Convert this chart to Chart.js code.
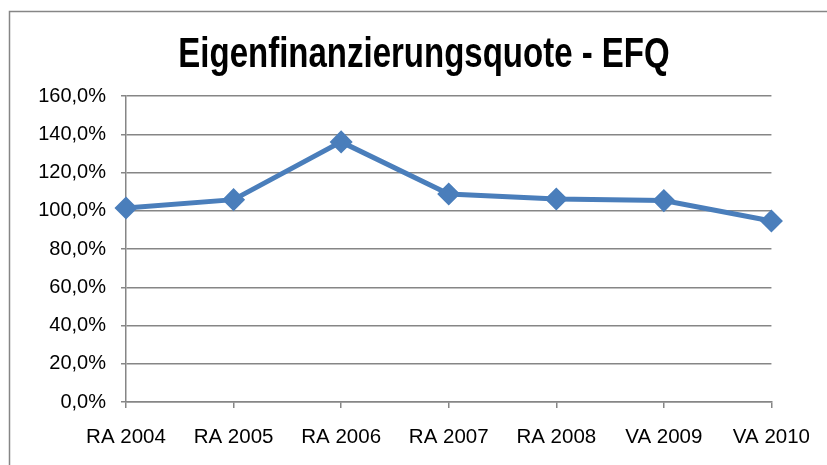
<!DOCTYPE html>
<html>
<head>
<meta charset="utf-8">
<script src="https://cdn.jsdelivr.net/npm/chart.js@4/dist/chart.umd.min.js"></script>
<style>
  html, body { margin: 0; padding: 0; background: #ffffff; }
  #wrap { width: 827px; height: 465px; position: relative; }
</style>
</head>
<body>
<div id="wrap"><canvas id="c" width="827" height="465"></canvas></div>
<script>
const categories = ["RA 2004", "RA 2005", "RA 2006", "RA 2007", "RA 2008", "VA 2009", "VA 2010"];
const efqValues = [101.4, 105.8, 136.0, 108.8, 106.1, 105.3, 94.6];
const yTicks = [0, 20, 40, 60, 80, 100, 120, 140, 160];
const titleText = "Eigenfinanzierungsquote - EFQ";

const gray = "#868686";
const blue = "#4A7EBB";

const frame = {
  id: "frame",
  beforeDraw(chart) {
    const ctx = chart.ctx;
    ctx.save();
    ctx.fillStyle = "#ffffff";
    ctx.fillRect(0, 0, chart.width, chart.height);
    ctx.strokeStyle = gray;
    ctx.lineWidth = 1.5;
    ctx.strokeRect(9.5, 11.5, 1000, 1000);
    ctx.restore();
  },
  afterDraw(chart) {
    const ctx = chart.ctx;
    ctx.save();
    ctx.fillStyle = "#000000";
    ctx.font = "bold 33px 'Liberation Sans', Arial, sans-serif";
    ctx.textAlign = "center";
    ctx.textBaseline = "alphabetic";
    ctx.translate(424, 67);
    ctx.scale(1, 1.27);
    ctx.fillText(titleText, 0, 0);
    ctx.restore();
  }
};

new Chart(document.getElementById("c"), {
  type: "line",
  data: {
    labels: categories,
    datasets: [{
      label: "EFQ",
      data: efqValues,
      borderColor: blue,
      backgroundColor: blue,
      borderWidth: 5,
      pointStyle: "rectRot",
      pointRadius: 8,
      pointHoverRadius: 8,
      pointBackgroundColor: blue,
      pointBorderColor: blue,
      tension: 0,
      fill: false
    }]
  },
  options: {
    responsive: false,
    animation: false,
    devicePixelRatio: 1,
    layout: { padding: { left: 0, right: 55, top: 96, bottom: 0 } },
    plugins: {
      legend: { display: false },
      tooltip: { enabled: false },
      title: { display: false }
    },
    scales: {
      x: {
        offset: false,
        afterFit(scale) { scale.height = 63; },
        grid: { drawOnChartArea: false, drawTicks: true, tickLength: 6, color: gray, lineWidth: 1.5 },
        border: { color: gray, width: 1.5 },
        ticks: {
          color: "#000000",
          padding: 17,
          maxRotation: 0,
          autoSkip: false,
          font: { family: "'Liberation Sans', Arial, sans-serif", size: 20.5 }
        }
      },
      y: {
        min: 0,
        max: 160,
        afterFit(scale) { scale.width = 126; },
        afterBuildTicks(scale) { scale.ticks = yTicks.map(v => ({ value: v })); },
        grid: { drawOnChartArea: true, drawTicks: true, tickLength: 5, color: gray, lineWidth: 1.5 },
        border: { color: gray, width: 1.5 },
        ticks: {
          color: "#000000",
          padding: 15,
          font: { family: "'Liberation Sans', Arial, sans-serif", size: 20 },
          callback: (v) => Number(v).toFixed(1).replace(".", ",") + "%"
        }
      }
    }
  },
  plugins: [frame]
});
</script>
</body>
</html>
